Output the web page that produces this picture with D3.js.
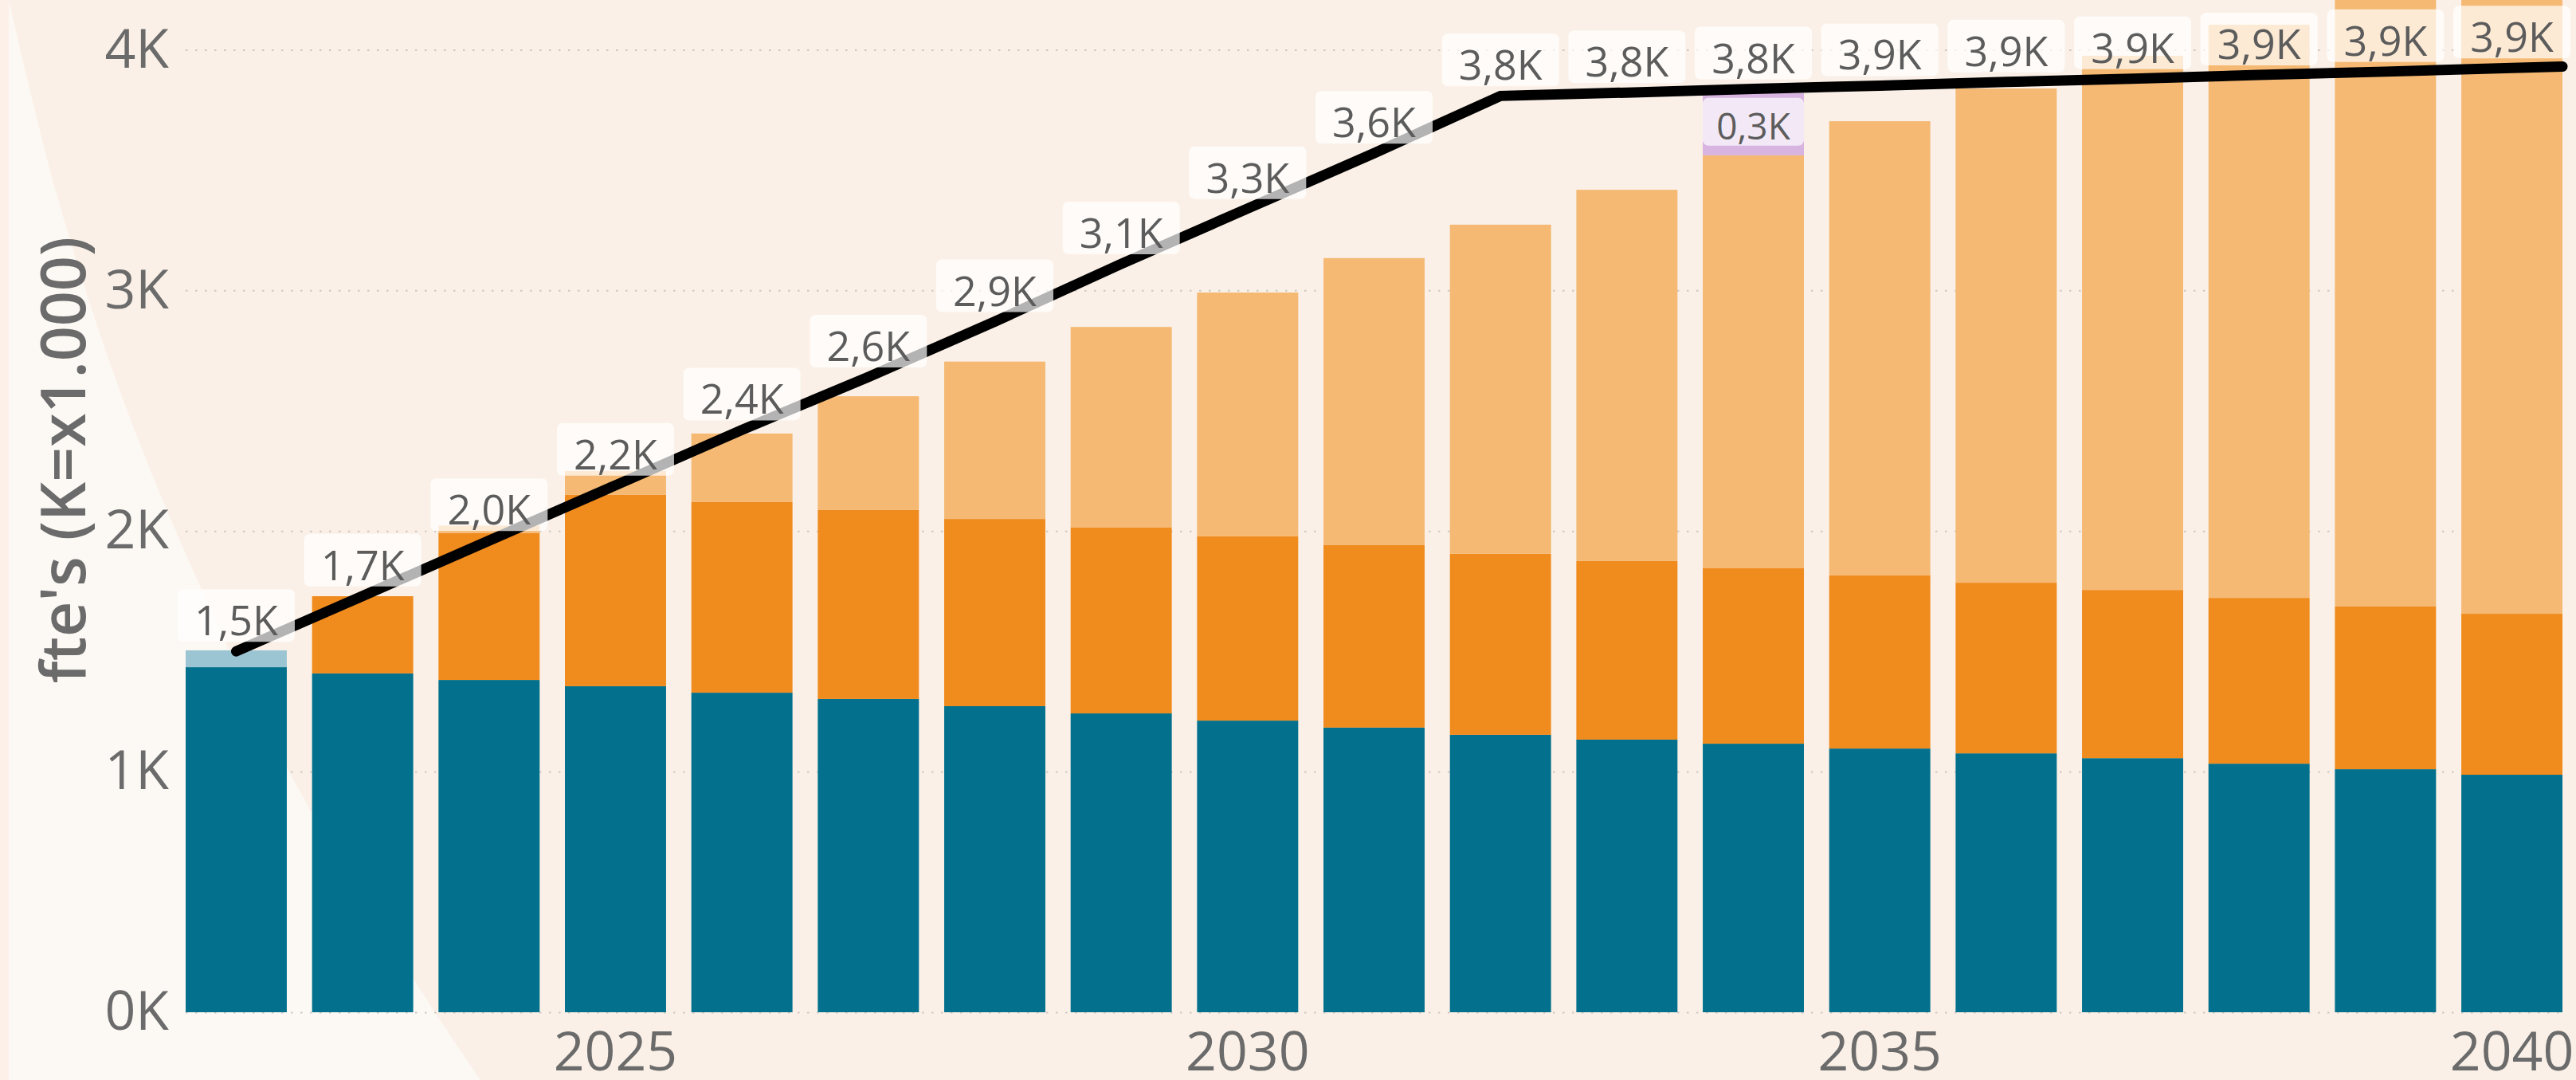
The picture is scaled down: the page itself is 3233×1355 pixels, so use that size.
<!DOCTYPE html>
<html>
<head>
<meta charset="utf-8">
<title>fte's prognose</title>
<script src="https://d3js.org/d3.v7.min.js"></script>
<style>
  html, body { margin: 0; padding: 0; background: #FAF0E7; overflow: hidden; }
  svg { display: block; }
  text { font-family: "Segoe UI", "Open Sans", sans-serif; }
  .axis text { fill: #6b6b6b; font-size: 68px; }
  .grid line { stroke: #cdc8c3; stroke-width: 2; stroke-dasharray: 2.5 9.5; }
  .val { fill: #5c5c5c; font-size: 52px; text-anchor: middle; }
  .seg { fill: #5c5c5c; font-size: 46px; text-anchor: middle; }
  .ytitle { fill: #6b6b6b; font-size: 77px; font-weight: 600; text-anchor: middle; }
</style>
</head>
<body>
<svg width="3233" height="1355"></svg>
<script>
// jaren
const years = [2022, 2023, 2024, 2025, 2026, 2027, 2028, 2029, 2030, 2031,
               2032, 2033, 2034, 2035, 2036, 2037, 2038, 2039, 2040];

// gestapelde reeksen (fte's)
const basis  = [1434, 1408, 1381, 1355, 1328, 1302, 1272, 1242, 1212, 1183,
                1153, 1133, 1116, 1096, 1076, 1056, 1033, 1010, 987];
const start  = [70, 0, 0, 0, 0, 0, 0, 0, 0, 0, 0, 0, 0, 0, 0, 0, 0, 0, 0];
const groei  = [0, 321, 611, 795, 792, 785, 778, 772, 766, 758,
                752, 742, 729, 719, 709, 699, 689, 676, 669];
const extra  = [0, 0, 30, 99, 285, 473, 654, 834, 1013, 1193,
                1368, 1543, 1716, 1888, 2054, 2220, 2382, 2554, 2719];
const tekort = [0, 0, 0, 0, 0, 0, 0, 0, 0, 0, 0, 0, 259, 0, 0, 0, 0, 0, 0];

// lijn (behoefte)
const behoefte = [1500, 1730, 1960, 2190, 2420, 2640, 2870, 3110, 3340, 3570,
                  3808, 3822, 3837, 3851, 3866, 3880, 3895, 3909, 3924];
const behoefteEind = 3930;

const yTicks = [0, 1000, 2000, 3000, 4000];
const xTicks = [2025, 2030, 2035, 2040];

const keys = ["basis", "start", "groei", "extra", "tekort"];
const colors = { basis: "#03718D", start: "#9CC5D3", groei: "#F08B1E", extra: "#F5B974", tekort: "#D8B4E0" };
const series = { basis, start, groei, extra, tekort };

const table = years.map((jaar, i) => {
    const row = { jaar };
    keys.forEach(k => row[k] = series[k][i]);
    return row;
});

const fmt = v => (v / 1000).toFixed(1).replace(".", ",") + "K";

const svg = d3.select("svg");

// achtergrond
svg.append("rect").attr("width", 3233).attr("height", 1355).attr("fill", "#FAF0E7");
const wedgePts = [[11, 0], [73, 250], [154, 500], [250, 733], [362, 967], [520, 1230], [603, 1355]];
svg.append("path")
    .attr("d", d3.line().curve(d3.curveCatmullRom)(wedgePts) + "L11,1355Z")
    .attr("fill", "#FCF8F4");
svg.append("rect").attr("width", 11).attr("height", 1355).attr("fill", "#FDF0E9");

// schalen
const x = d3.scaleBand().domain(years).range([233, 3216]).paddingInner(0.2).paddingOuter(0);
const y = d3.scaleLinear().domain([0, 4000]).range([1270, 62.4]);
const bw = x.bandwidth();

// rasterlijnen
svg.append("g")
    .attr("class", "grid")
    .attr("transform", "translate(233,0)")
    .call(d3.axisLeft(y).tickValues(yTicks).tickSize(-(3216 - 233)).tickFormat(""))
    .call(g => g.select(".domain").remove());

// y-as
svg.append("g")
    .attr("class", "axis")
    .attr("transform", "translate(233,0)")
    .call(d3.axisLeft(y).tickValues(yTicks).tickSize(0).tickPadding(21).tickFormat(d => d / 1000 + "K"))
    .call(g => g.select(".domain").remove())
    .selectAll("text").attr("font-family", null).attr("font-size", null);

// x-as
svg.append("g")
    .attr("class", "axis")
    .attr("transform", "translate(0,1270)")
    .call(d3.axisBottom(x).tickValues(xTicks).tickSize(0).tickPadding(25))
    .call(g => g.select(".domain").remove())
    .selectAll("text").attr("font-family", null).attr("font-size", null);

// as-titel
svg.append("text")
    .attr("class", "ytitle")
    .attr("transform", "translate(107,577) rotate(-90)")
    .text("fte's (K=x1.000)");

// gestapelde staven
const stacked = d3.stack().keys(keys)(table);
svg.append("g")
    .selectAll("g")
    .data(stacked)
    .join("g")
    .attr("fill", d => colors[d.key])
    .selectAll("rect")
    .data(d => d.filter(s => s[1] - s[0] > 0))
    .join("rect")
    .attr("x", d => x(d.data.jaar))
    .attr("y", d => y(d[1]))
    .attr("width", bw)
    .attr("height", d => y(d[0]) - y(d[1]));

// lijn
const linePts = years.map((jaar, i) => [x(jaar) + bw / 2, y(behoefte[i])]);
linePts.push([x(years[years.length - 1]) + bw, y(behoefteEind)]);
svg.append("path")
    .attr("d", d3.line()(linePts))
    .attr("fill", "none")
    .attr("stroke", "#000")
    .attr("stroke-width", 13)
    .attr("stroke-linecap", "round");

// label voor tekort-segment
const tekortLayer = stacked.find(s => s.key === "tekort");
const segLabels = svg.append("g")
    .selectAll("g")
    .data(tekortLayer.filter(s => s[1] - s[0] > 0))
    .join("g");
segLabels.append("rect")
    .attr("x", d => x(d.data.jaar))
    .attr("y", d => y(d[1]) + 6)
    .attr("width", bw)
    .attr("height", 60)
    .attr("rx", 7)
    .attr("fill", "#fff")
    .attr("opacity", 0.7);
segLabels.append("text")
    .attr("class", "seg")
    .attr("x", d => x(d.data.jaar) + bw / 2)
    .attr("y", d => y(d[1]) + 58)
    .text(d => fmt(d[1] - d[0]));

// labels bij de lijn
const boxW = 147, boxH = 66;
const lineLabels = svg.append("g")
    .selectAll("g")
    .data(years.map((jaar, i) => ({ jaar, v: behoefte[i] })))
    .join("g");
lineLabels.append("rect")
    .attr("x", d => x(d.jaar) + bw / 2 - boxW / 2)
    .attr("y", d => y(d.v) - 12 - boxH)
    .attr("width", boxW)
    .attr("height", boxH)
    .attr("rx", 7)
    .attr("fill", "#fff")
    .attr("opacity", 0.7);
lineLabels.append("text")
    .attr("class", "val")
    .attr("x", d => x(d.jaar) + bw / 2)
    .attr("y", d => y(d.v) - 12 - 8)
    .text(d => fmt(d.v));
</script>
</body>
</html>
